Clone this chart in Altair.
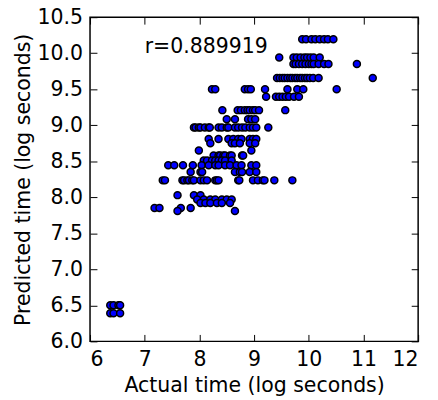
import altair as alt
import pandas as pd

# Predicted value rows (log seconds) and the actual times (log seconds) at each row
predicted_levels = [10.195, 9.94, 9.85, 9.655, 9.50, 9.395, 9.21, 9.085, 8.97, 8.81,
                    8.75, 8.65, 8.58, 8.51, 8.445, 8.35, 8.235, 8.03, 7.97, 7.92,
                    7.85, 7.81, 6.50, 6.39]
actual_by_level = [
    [9.88, 9.95, 10.05, 10.12, 10.2, 10.28, 10.35, 10.45],
    [9.46, 9.72, 9.78, 9.85, 9.92, 9.97, 10.03, 10.09, 10.2],
    [9.72, 9.76, 9.82, 9.88, 9.94, 10.0, 10.05, 10.09, 10.18, 10.28, 10.36, 10.88],
    [9.42, 9.47, 9.52, 9.56, 9.61, 9.66, 9.70, 9.75, 9.79, 9.84, 9.88, 9.93, 9.97,
     10.02, 10.08, 10.18, 11.17],
    [8.23, 8.29, 8.83, 8.89, 8.94, 9.2, 9.61, 9.79, 9.9, 10.51],
    [9.22, 9.40, 9.46, 9.52, 9.58, 9.64, 9.73, 9.82],
    [8.42, 8.70, 8.76, 8.83, 8.88, 8.92, 8.98, 9.02, 9.09, 9.57],
    [8.50, 8.65, 8.89, 8.95, 9.02],
    [7.90, 7.93, 7.99, 8.02, 8.10, 8.17, 8.19, 8.35, 8.41, 8.50, 8.53, 8.65, 8.71,
     8.78, 8.84, 8.92, 8.98, 9.04, 9.26],
    [8.17, 8.35, 8.53, 8.62, 8.71, 8.77, 8.92, 8.98, 9.04],
    [8.20, 8.59, 8.65, 8.74, 8.92, 9.02],
    [7.99, 8.95],
    [8.26, 8.35, 8.38, 8.44, 8.47, 8.56, 8.59, 8.78, 8.80],
    [8.08, 8.14, 8.23, 8.29, 8.35, 8.41, 8.47, 8.59],
    [7.43, 7.54, 7.70, 7.88, 8.04, 8.17, 8.29, 8.35, 8.47, 8.56, 8.68, 8.77, 8.95, 9.04],
    [7.84, 8.02, 8.05, 8.65, 8.74, 8.78, 8.92, 9.04],
    [7.33, 7.37, 7.69, 7.72, 7.78, 7.81, 7.87, 7.90, 8.02, 8.08, 8.14, 8.29, 8.32,
     8.35, 8.71, 8.73, 8.98, 9.07, 9.16, 9.19, 9.37, 9.70],
    [7.60, 7.90, 8.02],
    [7.96, 8.08, 8.20, 8.29, 8.41, 8.50, 8.59],
    [8.02, 8.11, 8.20, 8.32, 8.41, 8.56],
    [7.18, 7.27, 7.66, 7.84],
    [7.60, 8.65],
    [6.37, 6.43, 6.52, 6.55],
    [6.37, 6.43, 6.55],
]

x_ticks = [6, 7, 8, 9, 10, 11, 12]
y_ticks = [6.0, 6.5, 7.0, 7.5, 8.0, 8.5, 9.0, 9.5, 10.0, 10.5]
r_label = "r=0.889919"
r_x = 7.0
r_y = 10.0

actual, predicted = [], []
for lvl, xs in zip(predicted_levels, actual_by_level):
    for v in xs:
        actual.append(v)
        predicted.append(lvl)

df = pd.DataFrame({"actual": actual, "predicted": predicted})
txt = pd.DataFrame({"x": [r_x], "y": [r_y], "label": [r_label]})

FONT = "DejaVu Sans"
FS = 20.7
TICK = 7
xscale = alt.Scale(domain=[6, 12], nice=False, zero=False)
yscale = alt.Scale(domain=[6.0, 10.5], nice=False, zero=False)

points = alt.Chart(df).mark_point(
    filled=True, fill="#0000ff", stroke="black", strokeWidth=1.5, size=50, opacity=1
).encode(
    x=alt.X("actual:Q", scale=xscale,
            axis=alt.Axis(orient="bottom", values=x_ticks, format="d", domain=False,
                          grid=False, tickSize=TICK, offset=-TICK, tickColor="black",
                          labelPadding=8, labelFontSize=FS, labelFont=FONT,
                          labelColor="black", title="Actual time (log seconds)",
                          titleFont=FONT, titleFontSize=FS, titleFontWeight="normal",
                          titleColor="black", titlePadding=7)),
    y=alt.Y("predicted:Q", scale=yscale,
            axis=alt.Axis(orient="left", values=y_ticks, format=".1f", domain=False,
                          grid=False, tickSize=TICK, offset=-TICK, tickColor="black",
                          labelPadding=7.5, labelFontSize=FS, labelFont=FONT,
                          labelColor="black", title="Predicted time (log seconds)",
                          titleFont=FONT, titleFontSize=FS, titleFontWeight="normal",
                          titleColor="black", titlePadding=4)),
)

label = alt.Chart(txt).mark_text(
    align="left", baseline="alphabetic", font=FONT, fontSize=FS, color="black"
).encode(
    x=alt.X("x:Q", scale=xscale,
            axis=alt.Axis(orient="top", values=x_ticks, labels=False, domain=False,
                          grid=False, tickSize=TICK, offset=-TICK, tickColor="black",
                          title=None)),
    y=alt.Y("y:Q", scale=yscale,
            axis=alt.Axis(orient="right", values=y_ticks, labels=False, domain=False,
                          grid=False, tickSize=TICK, offset=-TICK, tickColor="black",
                          title=None)),
    text="label:N",
)

chart = alt.layer(points, label).resolve_axis(
    x="independent", y="independent"
).properties(
    width=332, height=328,
    autosize=alt.AutoSizeParams(type="none"),
    padding={"left": 83, "top": 7, "right": 12, "bottom": 56},
    background="white",
).configure_view(stroke="black", strokeWidth=1.5)

chart.save("out.html", embed_options={"renderer": "svg", "actions": False})
